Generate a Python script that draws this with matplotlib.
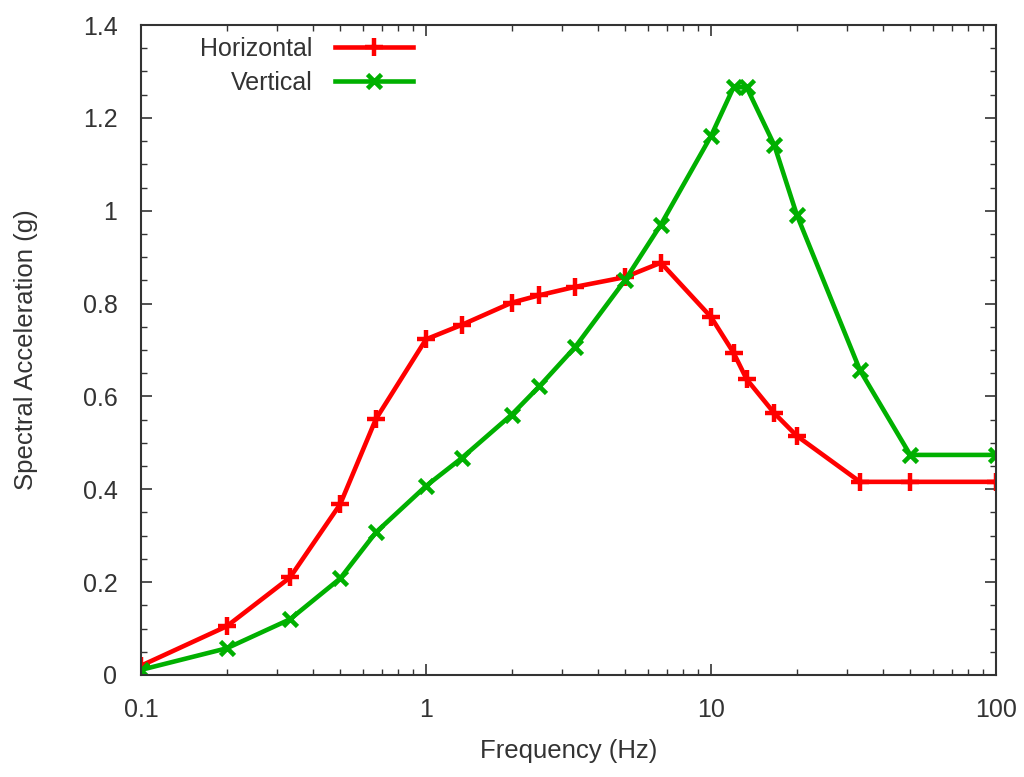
import numpy as np
import matplotlib.pyplot as plt
from matplotlib.ticker import MultipleLocator, FixedLocator, FixedFormatter, LogLocator, NullFormatter

plt.rcParams['font.family'] = ['Liberation Sans', 'DejaVu Sans']

freq = [0.1, 0.2, 0.3333, 0.5, 0.6667, 1.0, 1.3333, 2.0, 2.5, 3.3333,
        5.0, 6.6667, 10.0, 12.0, 13.333, 16.667, 20.0, 33.333, 50.0, 100.0]
horizontal = [0.02, 0.105, 0.21, 0.368, 0.551, 0.723, 0.754, 0.802, 0.818, 0.836,
              0.857, 0.888, 0.771, 0.694, 0.637, 0.564, 0.515, 0.416, 0.416, 0.416]
vertical = [0.011, 0.0575, 0.12, 0.208, 0.307, 0.407, 0.467, 0.561, 0.622, 0.706,
            0.851, 0.970, 1.161, 1.266, 1.266, 1.1415, 0.991, 0.656, 0.474, 0.474]
xticks = [0.1, 1, 10, 100]
xticklabels = ['0.1', '1', '10', '100']
yticks = [0, 0.2, 0.4, 0.6, 0.8, 1.0, 1.2, 1.4]
yticklabels = ['0', '0.2', '0.4', '0.6', '0.8', '1', '1.2', '1.4']

txt = '#333333'

fig = plt.figure(figsize=(10.24, 7.77), dpi=100)
ax = fig.add_axes([0.1377, 0.1313, 0.8350, 0.8365])

ax.plot(freq, horizontal, color='#ff0000', lw=3.3, marker='+', ms=13, mew=3.2, label='Horizontal')
ax.plot(freq, vertical, color='#00b000', lw=3.3, marker='x', ms=10, mew=3.3, label='Vertical')

ax.set_xscale('log')
ax.set_xlim(0.1, 100)
ax.set_ylim(0, 1.4)
ax.xaxis.set_major_locator(FixedLocator(xticks))
ax.xaxis.set_major_formatter(FixedFormatter(xticklabels))
ax.xaxis.set_minor_locator(LogLocator(base=10, subs=np.arange(2, 10)))
ax.xaxis.set_minor_formatter(NullFormatter())
ax.yaxis.set_major_locator(FixedLocator(yticks))
ax.yaxis.set_major_formatter(FixedFormatter(yticklabels))
ax.yaxis.set_minor_locator(MultipleLocator(0.05))

ax.tick_params(which='both', direction='in', top=True, right=True, labelsize=18,
               labelcolor=txt, color='#333333')
ax.tick_params(which='major', length=8, width=1.2)
ax.tick_params(which='minor', length=4.5, width=1.0)
ax.tick_params(axis='x', which='major', pad=16.5)
ax.tick_params(axis='y', which='major', pad=17)
for s in ax.spines.values():
    s.set_linewidth(1.5)
    s.set_color('#333333')

ax.set_xlabel('Frequency (Hz)', fontsize=18.5, labelpad=12.5, color=txt)
ax.set_ylabel('Spectral Acceleration (g)', fontsize=18.5, labelpad=32, color=txt)

ax.legend(loc='upper left', bbox_to_anchor=(0.069, 0.982), frameon=False, markerfirst=False,
          fontsize=18, handlelength=3.1, labelspacing=0.42, handletextpad=0.92, borderpad=0,
          borderaxespad=0, labelcolor=txt)

fig.savefig('out.png', dpi=100)
